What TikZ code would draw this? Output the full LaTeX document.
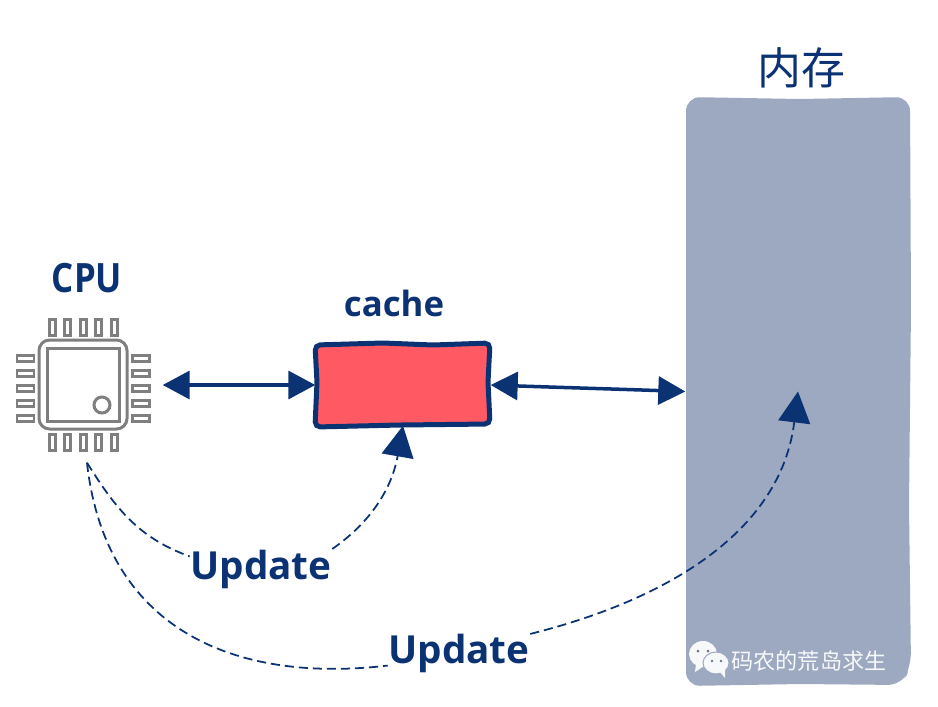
\documentclass[tikz,border=0pt]{standalone}
\usepackage{fontspec}
\setmainfont{Open Sans}
\newfontfamily\cjk{Noto Sans CJK SC}
\usetikzlibrary{arrows.meta}
\definecolor{navy}{HTML}{0B3374}
\definecolor{memgray}{HTML}{9CA9C0}
\definecolor{cachered}{HTML}{FF5A64}
\definecolor{pingray}{HTML}{7F7F7F}
\tikzset{
  biarrow/.style = {navy, line width = 0.035cm, {Triangle[length=0.27cm, width=0.28cm]}-{Triangle[length=0.27cm, width=0.28cm]}},
  updplain/.style = {navy, line width = 0.5pt, dash pattern = on 2.6pt off 1.4pt},
  updline/.style = {updplain, -{Triangle[length=0.31cm, width=0.32cm]}},
  pin/.style = {draw = pingray, line width = 0.03cm},
  lbl/.style = {text = navy, inner sep = 0pt, font = \bfseries\fontsize{11pt}{12pt}\selectfont}
}
\begin{document}
\begin{tikzpicture}
      \useasboundingbox (0,0) rectangle (9.38,7.06);

      % memory and cache, the nodes only hold the anchors for the connectors
      \node[minimum width = 2.24cm, minimum height = 5.89cm] (mem) at (7.98,3.145) {};
      \node[minimum width = 1.74cm, minimum height = 0.80cm] (cache) at (4.03,3.21) {};
      \fill[memgray, rounded corners = 4pt] (6.86,6.09) -- (8.00,6.07) -- (9.10,6.09) -- (9.11,4.00) -- (9.09,2.00) -- (9.11,0.40) -- (9.02,0.21) -- (8.00,0.22) -- (6.86,0.20) -- (6.86,3.00) -- cycle;
      \draw[fill = cachered, draw = navy, line width = 0.05cm, rounded corners = 1.5pt] (3.15,3.61) -- (3.83,3.63) -- (4.33,3.61) -- (4.90,3.63) -- (4.88,3.24) -- (4.90,2.82) -- (4.00,2.81) -- (3.15,2.79) -- (3.17,3.24) -- cycle;
      \node[text = navy, font = \cjk\fontsize{12.5pt}{14pt}\selectfont] (memname) at (8.01,6.38) {内存};
      \node[text = navy, font = \bfseries\fontsize{9.9pt}{11pt}\selectfont] (cachename) at (3.94,4.03) {cache};

      % cpu
      \node[minimum width = 1.50cm, minimum height = 1.54cm] (cpu) at (0.87,3.21) {};
      \node[text = navy, font = \bfseries\fontsize{11.5pt}{13pt}\selectfont] (cpuname) at (0.87,4.28) {\scalebox{0.86}[1]{CPU}};
      \draw[pin, rounded corners = 3pt] (0.39,2.77) rectangle (1.27,3.66);
      \draw[pin] (0.47,2.85) rectangle (1.19,3.58);
      \draw[pin] (1.02,3.01) circle [radius = 0.08];
      \foreach \i in {0,...,4} {
        \draw[pin] (0.49+0.155*\i,3.71) rectangle (0.55+0.155*\i,3.87);
        \draw[pin] (0.49+0.155*\i,2.56) rectangle (0.55+0.155*\i,2.72);
        \draw[pin] (0.17,3.51-0.15*\i) rectangle (0.34,3.45-0.15*\i);
        \draw[pin] (1.32,3.51-0.15*\i) rectangle (1.49,3.45-0.15*\i);
      }

      % watermark
      \fill[white!92!memgray] (7.03,0.52) ellipse [x radius = 0.14, y radius = 0.13];
      \fill[white!92!memgray] (6.96,0.42) -- (6.95,0.34) -- (7.04,0.40) -- cycle;
      \draw[fill = white!92!memgray, draw = memgray, line width = 0.01cm] (7.16,0.43) ellipse [x radius = 0.13, y radius = 0.11];
      \fill[white!92!memgray] (7.20,0.34) -- (7.25,0.28) -- (7.25,0.36) -- cycle;
      \fill[memgray!70!black] (6.98,0.55) circle [radius = 0.015] (7.08,0.55) circle [radius = 0.015];
      \fill[memgray!70!black] (7.12,0.45) circle [radius = 0.013] (7.21,0.45) circle [radius = 0.013];
      \node[text = white!92!memgray, font = \cjk\fontsize{6.3pt}{8pt}\selectfont] (mark) at (8.09,0.45) {码农的荒岛求生};

      % connectors
      \node[lbl] (upda) at (2.61,1.37) {Update};
      \node[lbl] (updb) at (4.59,0.53) {Update};
      \draw[biarrow] (cpu.east) -- (cache.west);
      \draw[biarrow] (cache.east) to [out=-2, in=178] (mem.west);
      \draw[updplain] (cpu.south) to [out=-58, in=160] (upda.170);
      \draw[updline] (upda.north east) to [out=35, in=-100] (cache.south);
      \draw[updplain] (cpu.south) .. controls (1.05,0.80) and (2.30,0.22) .. (updb.190);
      \draw[updline] (updb.15) to [out=14, in=-97] (mem.center);
\end{tikzpicture}
\end{document}
